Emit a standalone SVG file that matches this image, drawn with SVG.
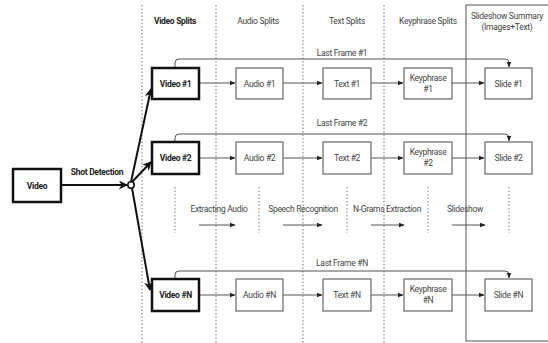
<svg xmlns="http://www.w3.org/2000/svg" width="548" height="343" viewBox="0 0 548 343">
<defs>
<marker id="ah" viewBox="0 0 10 10" refX="9" refY="5" markerWidth="6" markerHeight="6" orient="auto" markerUnits="userSpaceOnUse"><path d="M0,1 L10,5 L0,9 Z" fill="#222"/></marker>
<marker id="ahb" viewBox="0 0 10 10" refX="9" refY="5" markerWidth="9" markerHeight="9" orient="auto" markerUnits="userSpaceOnUse"><path d="M0,0 L10,5 L0,10 L3,5 Z" fill="#111"/></marker>
</defs>
<style>
text{font-family:"Roboto","Liberation Sans",sans-serif;font-size:8.5px;fill:#444;text-anchor:middle;letter-spacing:-0.3px}
.b{font-weight:bold;fill:#222}
.box{fill:#fff;stroke:#666;stroke-width:1.2}
.bold{fill:#fff;stroke:#111;stroke-width:2.5}
.dot{stroke:#777;stroke-width:1;stroke-dasharray:1.5,2;fill:none}
.ln{stroke:#555;stroke-width:1;fill:none}
.th{stroke:#111;stroke-width:2;fill:none}
</style>
<g id="lanes">
<line class="dot" x1="142" y1="5" x2="142" y2="343"/>
<line class="dot" x1="216" y1="5" x2="216" y2="343"/>
<line class="dot" x1="303" y1="5" x2="303" y2="343"/>
<line class="dot" x1="384" y1="5" x2="384" y2="343"/>
<rect x="466" y="5" width="84" height="336" fill="none" stroke="#555" stroke-width="1"/>
<line class="dot" x1="175" y1="187" x2="175" y2="233"/>
<line class="dot" x1="259" y1="187" x2="259" y2="233"/>
<line class="dot" x1="347" y1="187" x2="347" y2="233"/>
<line class="dot" x1="428" y1="187" x2="428" y2="233"/>
<line class="dot" x1="509" y1="187" x2="509" y2="233"/>
</g>
<g id="headers">
<text class="b" x="175" y="24">Video Splits</text>
<text x="258" y="24">Audio Splits</text>
<text x="347" y="24">Text Splits</text>
<text x="428" y="24">Keyphrase Splits</text>
<text x="507" y="19">Slideshow Summary</text>
<text x="507" y="30">(Images+Text)</text>
</g>
<g id="connectors">
<line class="th" x1="61" y1="185" x2="127" y2="185" marker-end="url(#ahb)"/>
<line class="th" x1="131" y1="182" x2="151" y2="89" marker-end="url(#ahb)"/>
<line class="th" x1="132" y1="182" x2="151" y2="162" marker-end="url(#ahb)"/>
<line class="th" x1="132" y1="188" x2="150" y2="290" marker-end="url(#ahb)"/>
<path class="ln" d="M175,68 V63 Q175,59 179,59 H505 Q509,59 509,63 V67" marker-end="url(#ah)"/>
<path class="ln" d="M175,142 V138 Q175,134 179,134 H505 Q509,134 509,138 V141" marker-end="url(#ah)"/>
<path class="ln" d="M175,279 V275 Q175,271 179,271 H505 Q509,271 509,275 V278" marker-end="url(#ah)"/>
<line class="ln" x1="199" y1="83" x2="235" y2="83" marker-end="url(#ah)"/>
<line class="ln" x1="283" y1="83" x2="322" y2="83" marker-end="url(#ah)"/>
<line class="ln" x1="371" y1="83" x2="403" y2="83" marker-end="url(#ah)"/>
<line class="ln" x1="452" y1="83" x2="484" y2="83" marker-end="url(#ah)"/>
<line class="ln" x1="199" y1="158" x2="235" y2="158" marker-end="url(#ah)"/>
<line class="ln" x1="283" y1="158" x2="322" y2="158" marker-end="url(#ah)"/>
<line class="ln" x1="371" y1="158" x2="403" y2="158" marker-end="url(#ah)"/>
<line class="ln" x1="452" y1="158" x2="484" y2="158" marker-end="url(#ah)"/>
<line class="ln" x1="199" y1="295" x2="235" y2="295" marker-end="url(#ah)"/>
<line class="ln" x1="283" y1="295" x2="322" y2="295" marker-end="url(#ah)"/>
<line class="ln" x1="371" y1="295" x2="403" y2="295" marker-end="url(#ah)"/>
<line class="ln" x1="452" y1="295" x2="484" y2="295" marker-end="url(#ah)"/>
<line class="ln" x1="199" y1="225" x2="235" y2="225" marker-end="url(#ah)"/>
<line class="ln" x1="283" y1="225" x2="322" y2="225" marker-end="url(#ah)"/>
<line class="ln" x1="371" y1="225" x2="404" y2="225" marker-end="url(#ah)"/>
<line class="ln" x1="452" y1="225" x2="485" y2="225" marker-end="url(#ah)"/>
<circle cx="131" cy="185" r="3.2" fill="#fff" stroke="#111" stroke-width="1.6"/>
<text class="b" x="97" y="175">Shot Detection</text>
<text x="342" y="56">Last Frame #1</text>
<text x="342" y="126">Last Frame #2</text>
<text x="342" y="266">Last Frame #N</text>
<text x="219" y="212">Extracting Audio</text>
<text x="303" y="212">Speech Recognition</text>
<text x="387" y="212">N-Grams Extraction</text>
<text x="465" y="212">Slideshow</text>
</g>
<g id="video"><rect class="bold" x="13" y="169" width="48" height="33"/><text class="b" x="37" y="189">Video</text></g>
<g id="video1"><rect class="bold" x="152" y="68" width="47" height="31"/><text class="b" x="175.5" y="87">Video #1</text></g>
<g id="video2"><rect class="bold" x="152" y="142" width="47" height="32"/><text class="b" x="175.5" y="161">Video #2</text></g>
<g id="videoN"><rect class="bold" x="152" y="279" width="47" height="32"/><text class="b" x="175.5" y="298">Video #N</text></g>
<g id="audio1"><rect class="box" x="236" y="68" width="47" height="31"/><text x="259.5" y="87">Audio #1</text></g>
<g id="audio2"><rect class="box" x="236" y="142" width="47" height="32"/><text x="259.5" y="161">Audio #2</text></g>
<g id="audioN"><rect class="box" x="236" y="279" width="47" height="32"/><text x="259.5" y="298">Audio #N</text></g>
<g id="text1"><rect class="box" x="323" y="68" width="48" height="31"/><text x="347" y="87">Text #1</text></g>
<g id="text2"><rect class="box" x="323" y="142" width="48" height="32"/><text x="347" y="161">Text #2</text></g>
<g id="textN"><rect class="box" x="323" y="279" width="48" height="32"/><text x="347" y="298">Text #N</text></g>
<g id="kp1"><rect class="box" x="404" y="68" width="48" height="31"/><text x="428" y="81">Keyphrase</text><text x="428" y="92">#1</text></g>
<g id="kp2"><rect class="box" x="404" y="142" width="48" height="32"/><text x="428" y="155">Keyphrase</text><text x="428" y="166">#2</text></g>
<g id="kpN"><rect class="box" x="404" y="279" width="48" height="32"/><text x="428" y="292">Keyphrase</text><text x="428" y="303">#N</text></g>
<g id="slide1"><rect class="box" x="485" y="68" width="47" height="31"/><text x="508.5" y="87">Slide #1</text></g>
<g id="slide2"><rect class="box" x="485" y="142" width="47" height="32"/><text x="508.5" y="161">Slide #2</text></g>
<g id="slideN"><rect class="box" x="485" y="279" width="47" height="32"/><text x="508.5" y="298">Slide #N</text></g>
</svg>
